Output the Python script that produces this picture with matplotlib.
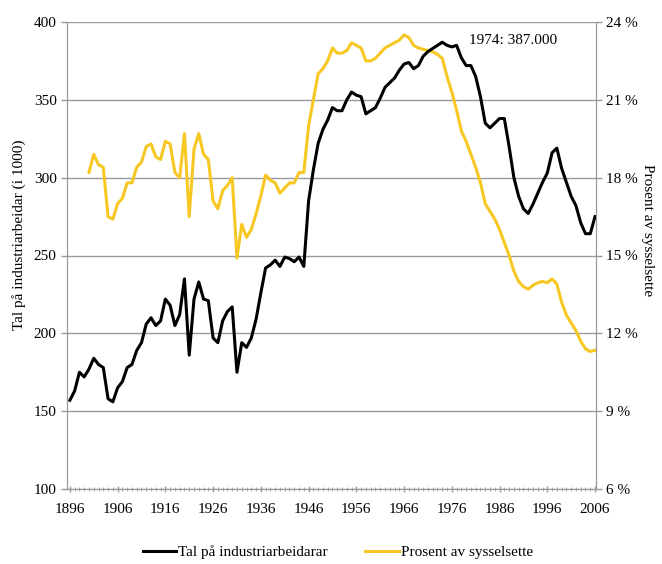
import matplotlib
matplotlib.use('Agg')
import matplotlib.pyplot as plt

# industrial workers (thousands), 1896-2006
years_workers = list(range(1896, 2007))
workers = [157, 163, 175, 172, 177, 184, 180, 178, 158, 156,
           165, 169, 178, 180, 189, 194, 206, 210, 205, 208,
           222, 218, 205, 212, 235, 186, 222, 233, 222, 221,
           197, 194, 208, 214, 217, 175, 194, 191, 197, 209,
           226, 242, 244, 247, 243, 249, 248, 246, 249, 243,
           285, 305, 322, 331, 337, 345, 343, 343, 350, 355,
           353, 352, 341, 343, 345, 351, 358, 361, 364, 369,
           373, 374, 370, 372, 378, 381, 383, 385, 387, 385,
           384, 385, 377, 372, 372, 365, 352, 335, 332, 335,
           338, 338, 320, 300, 288, 280, 277, 283, 290, 297,
           303, 316, 319, 306, 297, 288, 282, 271, 264, 264,
           275]

# share of employed (%), 1900-2006
years_share = list(range(1900, 2007))
share = [18.2, 18.9, 18.5, 18.4, 16.5, 16.4, 17.0, 17.2, 17.8, 17.8,
         18.4, 18.6, 19.2, 19.3, 18.8, 18.7, 19.4, 19.3, 18.2, 18.0,
         19.7, 16.5, 19.1, 19.7, 18.9, 18.7, 17.1, 16.8, 17.5, 17.7,
         18.0, 14.9, 16.2, 15.7, 16.0, 16.6, 17.3, 18.1, 17.9, 17.8,
         17.4, 17.6, 17.8, 17.8, 18.2, 18.2, 20.0, 21.0, 22.0, 22.2,
         22.5, 23.0, 22.8, 22.8, 22.9, 23.2, 23.1, 23.0, 22.5, 22.5,
         22.6, 22.8, 23.0, 23.1, 23.2, 23.3, 23.5, 23.4, 23.1, 23.0,
         22.95, 22.9, 22.85, 22.75, 22.6, 21.9, 21.3, 20.6, 19.8, 19.4,
         18.9, 18.4, 17.8, 17.0, 16.7, 16.4, 16.0, 15.5, 15.0, 14.4,
         14.0, 13.8, 13.7, 13.85, 13.95, 14.0, 13.95, 14.1, 13.9, 13.2,
         12.7, 12.4, 12.1, 11.7, 11.4, 11.3, 11.35]

xticks = list(range(1896, 2007, 10))
left_ticks = [100, 150, 200, 250, 300, 350, 400]
right_ticks = [6, 9, 12, 15, 18, 21, 24]

plt.rcParams['font.family'] = ['Liberation Serif', 'DejaVu Serif']
plt.rcParams['font.size'] = 11

grey = '#9a9a9a'
yellow = '#F7C723'

fig = plt.figure(figsize=(6.62, 5.64), dpi=100)
ax = fig.add_axes([67 / 662, 75 / 564, 529 / 662, 467 / 564])
ax2 = ax.twinx()

# percent line on the right axis, drawn underneath
l2, = ax2.plot(years_share, share, color=yellow, linewidth=2.2,
               label='Prosent av sysselsette')
ax2.set_ylim(6, 24)
ax2.set_yticks(right_ticks)
ax2.set_yticklabels([f'{t} %' for t in right_ticks])

# workers on the left axis, on top
l1, = ax.plot(years_workers, workers, color='black', linewidth=2.2,
              label='Tal på industriarbeidarar')
ax.set_zorder(ax2.get_zorder() + 1)
ax.patch.set_visible(False)
ax.set_ylim(100, 400)
ax.set_yticks(left_ticks)
ax.set_xlim(1895.4, 2006.2)
ax.set_xticks(xticks)
ax.set_xticks(years_workers, minor=True)

# grid lives on ax2 so it sits below both lines
ax2.set_yticks(right_ticks)
ax2.grid(axis='y', color=grey, linewidth=1)
ax2.set_axisbelow(True)

for a in (ax, ax2):
    a.spines['top'].set_visible(False)
    for s in ['left', 'right', 'bottom']:
        a.spines[s].set_color(grey)
    a.tick_params(axis='both', which='major', color=grey, length=4, width=1)
ax.tick_params(axis='x', which='minor', color=grey, length=3, direction='inout')
ax.tick_params(axis='x', which='major', length=4, direction='inout', pad=8)

ax.set_ylabel('Tal på industriarbeidar (i 1000)')
ax.yaxis.set_label_coords(-0.078, 0.545)
ax2.set_ylabel('Prosent av sysselsette', rotation=270)
ax2.yaxis.set_label_coords(1.11, 0.555)

ax.text(1979.6, 388, '1974: 387.000', va='center', ha='left')

fig.legend(handles=[l1, l2], loc='center', bbox_to_anchor=(0.51, 12 / 564),
           ncol=2, frameon=False, handlelength=2.2, handletextpad=0.1,
           columnspacing=2.5)

fig.savefig('out.png', dpi=100)
